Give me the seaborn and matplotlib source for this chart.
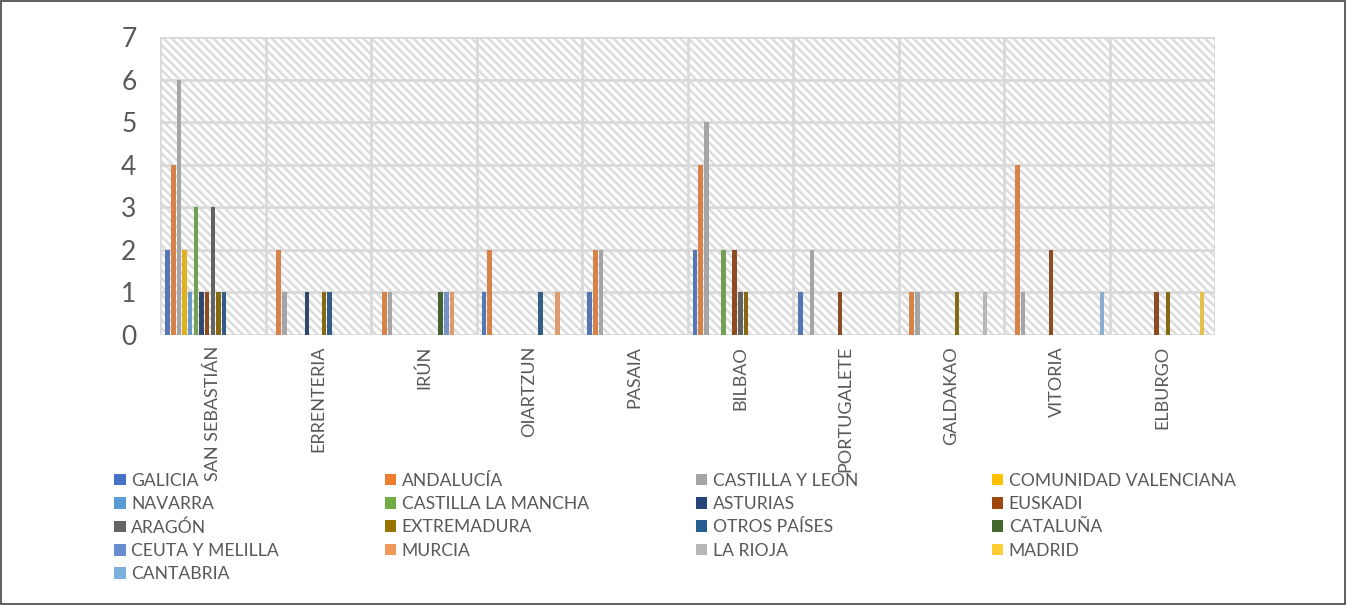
import matplotlib
matplotlib.use("Agg")
import matplotlib.pyplot as plt
from matplotlib.patches import Rectangle, Patch
import seaborn as sns
import pandas as pd

cities = ["SAN SEBASTIÁN", "ERRENTERIA", "IRÚN", "OIARTZUN", "PASAIA",
          "BILBAO", "PORTUGALETE", "GALDAKAO", "VITORIA", "ELBURGO"]

regions = ["GALICIA", "ANDALUCÍA", "CASTILLA Y LEON", "COMUNIDAD VALENCIANA",
           "NAVARRA", "CASTILLA LA MANCHA", "ASTURIAS", "EUSKADI",
           "ARAGÓN", "EXTREMADURA", "OTROS PAÍSES", "CATALUÑA",
           "CEUTA Y MELILLA", "MURCIA", "LA RIOJA", "MADRID", "CANTABRIA"]

colors = ["#4472C4", "#ED7D31", "#A5A5A5", "#FFC000", "#5B9BD5", "#70AD47",
          "#264478", "#9E480E", "#636363", "#997300", "#255E91", "#43682B",
          "#698ED0", "#F1975A", "#B7B7B7", "#FFCD33", "#7CAFDD"]

# one list per city, values in region order
san_sebastian = [2, 4, 6, 2, 1, 3, 1, 1, 3, 1, 1, 0, 0, 0, 0, 0, 0]
errenteria    = [0, 2, 1, 0, 0, 0, 1, 0, 0, 1, 1, 0, 0, 0, 0, 0, 0]
irun          = [0, 1, 1, 0, 0, 0, 0, 0, 0, 0, 0, 1, 1, 1, 0, 0, 0]
oiartzun      = [1, 2, 0, 0, 0, 0, 0, 0, 0, 0, 1, 0, 0, 1, 0, 0, 0]
pasaia        = [1, 2, 2, 0, 0, 0, 0, 0, 0, 0, 0, 0, 0, 0, 0, 0, 0]
bilbao        = [2, 4, 5, 0, 0, 2, 0, 2, 1, 1, 0, 0, 0, 0, 0, 0, 0]
portugalete   = [1, 0, 2, 0, 0, 0, 0, 1, 0, 0, 0, 0, 0, 0, 0, 0, 0]
galdakao      = [0, 1, 1, 0, 0, 0, 0, 0, 0, 1, 0, 0, 0, 0, 1, 0, 0]
vitoria       = [0, 4, 1, 0, 0, 0, 0, 2, 0, 0, 0, 0, 0, 0, 0, 0, 1]
elburgo       = [0, 0, 0, 0, 0, 0, 0, 1, 0, 1, 0, 0, 0, 0, 0, 1, 0]

values = [san_sebastian, errenteria, irun, oiartzun, pasaia,
          bilbao, portugalete, galdakao, vitoria, elburgo]

rows = []
for city, vals in zip(cities, values):
    for reg, v in zip(regions, vals):
        rows.append({"ciudad": city, "region": reg, "valor": v})
df = pd.DataFrame(rows)

sns.set_theme(style="white")
plt.rcParams["font.family"] = ["Lato", "DejaVu Sans"]
plt.rcParams["hatch.linewidth"] = 1.8

txt = "#595959"
grid = "#D9D9D9"

fig = plt.figure(figsize=(13.46, 6.05), dpi=100)
ax = fig.add_axes([0.1189, 0.4463, 0.7838, 0.4925])

# hatched background
ax.add_patch(Rectangle((0, 0), 1, 1, transform=ax.transAxes, facecolor="white",
                       edgecolor="#DCDCDC", hatch="\\\\\\\\", linewidth=0, zorder=0))

sns.barplot(data=df, x="ciudad", y="valor", hue="region", hue_order=regions,
            order=cities, palette=colors, width=0.91, gap=0.2, linewidth=0,
            ax=ax, legend=False, zorder=3)

ax.set_ylim(0, 7)
ax.set_xlim(-0.5, len(cities) - 0.5)
ax.set_yticks(range(0, 8))
for y in range(0, 8):
    ax.axhline(y, color=grid, lw=2, zorder=1)
for i in range(len(cities) + 1):
    ax.axvline(i - 0.5, color=grid, lw=2, zorder=1)
for s in ax.spines.values():
    s.set_visible(False)

ax.set_xlabel("")
ax.set_ylabel("")
ax.tick_params(axis="y", length=0, pad=17, labelsize=19, labelcolor=txt)
ax.tick_params(axis="x", length=0, pad=8, labelsize=13, labelcolor=txt)
plt.setp(ax.get_xticklabels(), rotation=90)

# legend: 4 separate columns, filled row by row
col_x = [0.085, 0.286, 0.517, 0.737]
for c in range(4):
    idx = list(range(c, len(regions), 4))
    handles = [Patch(facecolor=colors[i], edgecolor="none") for i in idx]
    labels = [regions[i] for i in idx]
    leg = fig.legend(handles, labels, loc="upper left",
                     bbox_to_anchor=(col_x[c], 0.219), frameon=False,
                     fontsize=12.6, handlelength=0.65, handleheight=0.65,
                     handletextpad=0.3, labelspacing=0.42,
                     borderaxespad=0, borderpad=0)
    for t in leg.get_texts():
        t.set_color(txt)

fig.patches.append(Rectangle((0.001, 0.002), 0.998, 0.996, transform=fig.transFigure,
                             fill=False, edgecolor="#444444", linewidth=1.2))

fig.savefig("out.png", dpi=100)
